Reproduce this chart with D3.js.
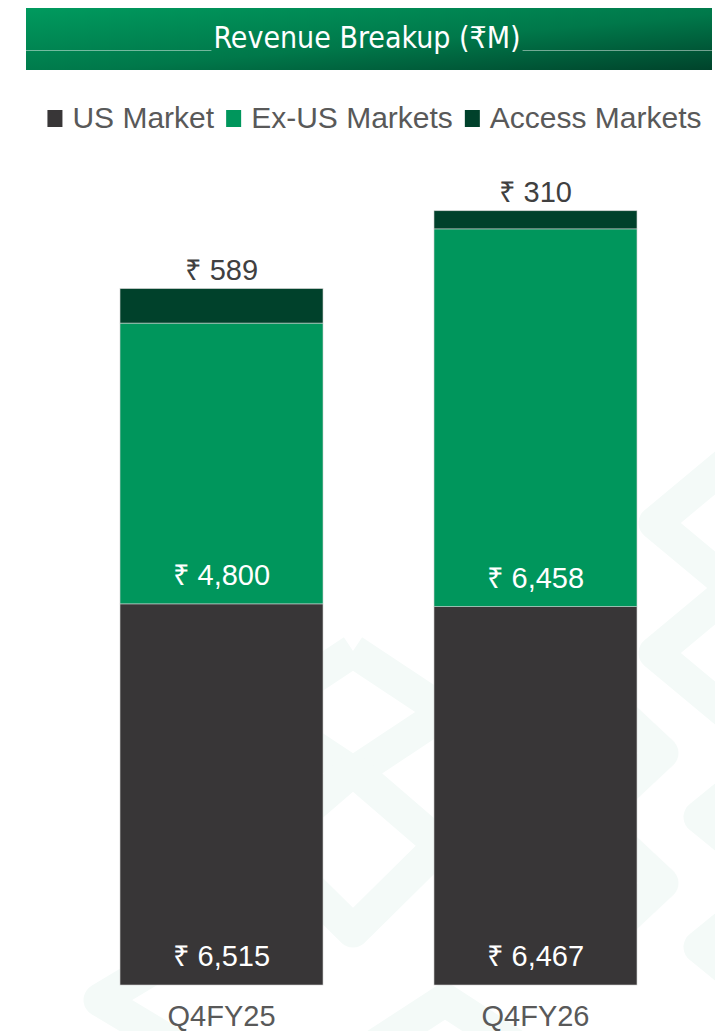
<!DOCTYPE html>
<meta charset="utf-8">
<script src="https://d3js.org/d3.v7.min.js"></script>
<style>
  body { margin: 0; background: #fff; }
  text { font-family: "Liberation Sans", Arial, "Noto Sans", sans-serif; }
</style>
<div id="chart"></div>
<script>
// data
var categories = ["Q4FY25", "Q4FY26"];
var seriesNames = ["US Market", "Ex-US Markets", "Access Markets"];
var usMarket = [6515, 6467];
var exUsMarkets = [4800, 6458];
var accessMarkets = [589, 310];
var title = "Revenue Breakup (₹M)";

var width = 715, height = 1031;
var colors = ["#383637", "#00965c", "#00412b"];

var svg = d3.select("#chart").append("svg")
    .attr("width", width)
    .attr("height", height);

// faint background pattern (decoration behind the bars)
var deco = svg.append("g")
    .attr("fill", "none")
    .attr("stroke", "#f4faf8")
    .attr("stroke-width", 33)
    .attr("stroke-linejoin", "round")
    .attr("stroke-linecap", "butt");
var decoLines = [
  [[740, 452], [655, 523], [740, 594]],
  [[740, 582], [655, 653], [740, 724]],
  [[600, 695], [662, 753], [600, 811]],
  [[770, 760], [700, 817], [770, 874]],
  [[600, 825], [662, 883], [600, 941]],
  [[770, 890], [700, 947], [770, 1004]],
  [[353, 651], [445, 712], [353, 773], [261, 712], [353, 651]],
  [[353, 770], [440, 845], [353, 931], [266, 845], [353, 770]],
  [[300, 880], [100, 1000], [300, 1120]],
  [[330, 1075], [445, 1000], [560, 1075]]
];
deco.selectAll("path").data(decoLines).enter().append("path")
    .attr("d", d3.line());

// header
var defs = svg.append("defs");
var grad = defs.append("linearGradient")
    .attr("id", "hdr").attr("x1", 0).attr("y1", 0).attr("x2", 1).attr("y2", 1);
grad.append("stop").attr("offset", "0%").attr("stop-color", "#009a5e");
grad.append("stop").attr("offset", "55%").attr("stop-color", "#00784a");
grad.append("stop").attr("offset", "100%").attr("stop-color", "#00432b");

svg.append("rect")
    .attr("x", 26).attr("y", 8)
    .attr("width", 686).attr("height", 62)
    .attr("fill", "url(#hdr)");

var titleText = svg.append("text")
    .attr("x", 367).attr("y", 48)
    .attr("text-anchor", "middle")
    .attr("fill", "#ffffff")
    .style("font-family", "'Liberation Sans Narrow', 'DejaVu Sans Condensed', sans-serif")
    .style("font-size", "30px")
    .text(title);
var tw = titleText.node().getComputedTextLength();
svg.append("g")
    .attr("stroke", "rgba(255,255,255,0.45)")
    .attr("stroke-width", 1)
    .selectAll("line")
    .data([[26, 367 - tw / 2 - 2], [367 + tw / 2 + 2, 712]])
    .enter().append("line")
    .attr("x1", function(d) { return d[0]; })
    .attr("x2", function(d) { return d[1]; })
    .attr("y1", 50.5).attr("y2", 50.5);

// legend
var legend = svg.append("g");
var items = legend.selectAll("g").data(seriesNames).enter().append("g");
items.append("rect")
    .attr("width", 15).attr("height", 17)
    .attr("y", 110)
    .attr("fill", function(d, i) { return colors[i]; });
items.append("text")
    .attr("y", 128)
    .attr("x", 25)
    .attr("fill", "#595959")
    .style("font-size", "30px")
    .text(function(d) { return d; });
var xpos = 0, offsets = [];
items.each(function() {
  offsets.push(xpos);
  xpos += 25 + d3.select(this).select("text").node().getComputedTextLength() + 12;
});
var legendW = xpos - 12;
var legendX = 374.5 - legendW / 2;
items.attr("transform", function(d, i) { return "translate(" + (legendX + offsets[i]) + ",0)"; });

// scales
var x = d3.scaleBand()
    .domain(categories)
    .range([64.5, 692.5])
    .paddingInner(0.3535)
    .paddingOuter(0.1768);

var y = d3.scaleLinear()
    .domain([0, 14000])
    .range([985, 166]);

var table = categories.map(function(c, i) {
  return { cat: c, us: usMarket[i], exus: exUsMarkets[i], access: accessMarkets[i] };
});
var keys = ["us", "exus", "access"];
var stacked = d3.stack().keys(keys)(table);

var layers = svg.append("g").selectAll("g")
    .data(stacked).enter().append("g")
    .attr("fill", function(d, i) { return colors[i]; });

layers.selectAll("rect")
    .data(function(d) { return d; })
    .enter().append("rect")
    .attr("x", function(d) { return x(d.data.cat); })
    .attr("width", x.bandwidth())
    .attr("y", function(d) { return y(d[1]); })
    .attr("height", function(d) { return y(d[0]) - y(d[1]); })
    .attr("stroke", "#d0d0d0")
    .attr("stroke-width", 0.6);

var fmt = d3.format(",");

// labels inside (US & Ex-US) near segment bottom; access above bar
layers.selectAll("text")
    .data(function(d) { return d.map(function(p) { return { p: p, key: d.key }; }); })
    .enter().append("text")
    .attr("x", function(d) { return x(d.p.data.cat) + x.bandwidth() / 2; })
    .attr("y", function(d) {
      return d.key === "access" ? y(d.p[1]) - 9 : y(d.p[0]) - 19;
    })
    .attr("text-anchor", "middle")
    .attr("fill", function(d) { return d.key === "access" ? "#404040" : "#ffffff"; })
    .style("font-size", "29px")
    .text(function(d) { return "₹ " + fmt(d.p.data[d.key]); });

// category axis
var xAxis = svg.append("g")
    .attr("transform", "translate(0,985)")
    .call(d3.axisBottom(x).tickSize(0).tickPadding(41));
xAxis.select(".domain").remove();
xAxis.selectAll("text")
    .attr("fill", "#595959")
    .attr("dy", 0)
    .style("font-size", "29px")
    .style("font-family", "'Liberation Sans', Arial, sans-serif");
</script>
